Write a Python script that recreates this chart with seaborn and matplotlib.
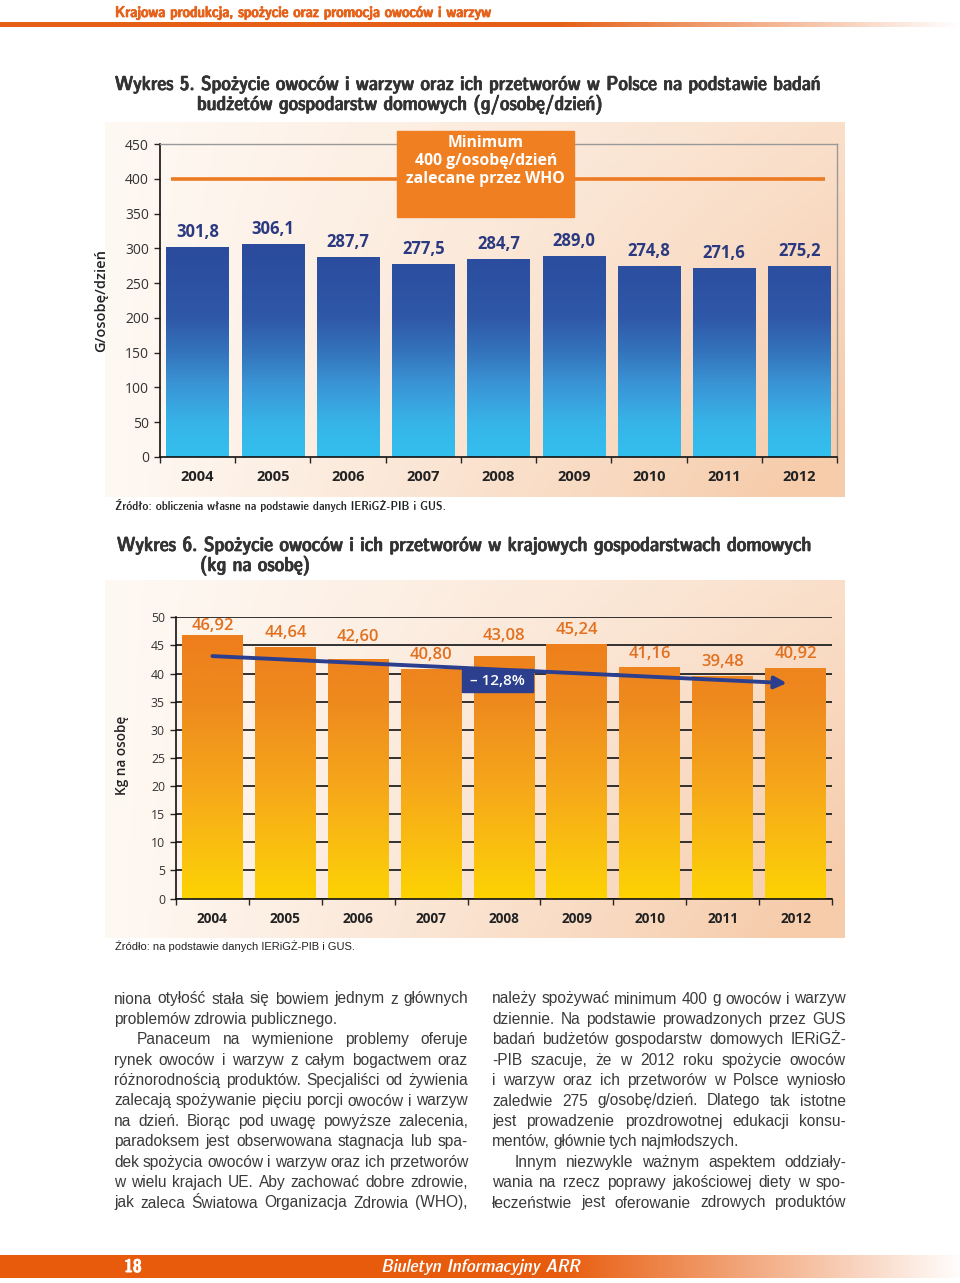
import matplotlib
matplotlib.use("Agg")
import numpy as np
import seaborn as sns
import matplotlib.pyplot as plt
import matplotlib.patheffects as pe
from matplotlib import font_manager
from matplotlib.colors import LinearSegmentedColormap
from matplotlib.patches import Rectangle

# data
years = ["2004", "2005", "2006", "2007", "2008", "2009", "2010", "2011", "2012"]
daily_g = [301.8, 306.1, 287.7, 277.5, 284.7, 289.0, 274.8, 271.6, 275.2]
who_min = 400
who_label = "Minimum\n400 g/osobę/dzień\nzalecane przez WHO"
yearly_kg = [46.92, 44.64, 42.60, 40.80, 43.08, 45.24, 41.16, 39.48, 40.92]
trend_kg = [43.1, 38.3]
trend_label = "– 12,8%"

header = "Krajowa produkcja, spożycie oraz promocja owoców i warzyw"
title5 = ["Wykres 5. Spożycie owoców i warzyw oraz ich przetworów w Polsce na podstawie badań",
          "budżetów gospodarstw domowych (g/osobę/dzień)"]
title6 = ["Wykres 6. Spożycie owoców i ich przetworów w krajowych gospodarstwach domowych",
          "(kg na osobę)"]
source5 = "Źródło: obliczenia własne na podstawie danych IERiGŻ-PIB i GUS."
source6 = "Źródło: na podstawie danych IERiGŻ-PIB i GUS."

# (text, indent, last line of paragraph)
left_col = [
    ("niona otyłość stała się bowiem jednym z głównych", 0, False),
    ("problemów zdrowia publicznego.", 0, True),
    ("Panaceum na wymienione problemy oferuje", 1, False),
    ("rynek owoców i warzyw z całym bogactwem oraz", 0, False),
    ("różnorodnością produktów. Specjaliści od żywienia", 0, False),
    ("zalecają spożywanie pięciu porcji owoców i warzyw", 0, False),
    ("na dzień. Biorąc pod uwagę powyższe zalecenia,", 0, False),
    ("paradoksem jest obserwowana stagnacja lub spa-", 0, False),
    ("dek spożycia owoców i warzyw oraz ich przetworów", 0, False),
    ("w wielu krajach UE. Aby zachować dobre zdrowie,", 0, False),
    ("jak zaleca Światowa Organizacja Zdrowia (WHO),", 0, False),
]
right_col = [
    ("należy spożywać minimum 400 g owoców i warzyw", 0, False),
    ("dziennie. Na podstawie prowadzonych przez GUS", 0, False),
    ("badań budżetów gospodarstw domowych IERiGŻ-", 0, False),
    ("-PIB szacuje, że w 2012 roku spożycie owoców", 0, False),
    ("i warzyw oraz ich przetworów w Polsce wyniosło", 0, False),
    ("zaledwie 275 g/osobę/dzień. Dlatego tak istotne", 0, False),
    ("jest prowadzenie prozdrowotnej edukacji konsu-", 0, False),
    ("mentów, głównie tych najmłodszych.", 0, True),
    ("Innym niezwykle ważnym aspektem oddziały-", 1, False),
    ("wania na rzecz poprawy jakościowej diety w spo-", 0, False),
    ("łeczeństwie jest oferowanie zdrowych produktów", 0, False),
]
page_no = "18"
footer = "Biuletyn Informacyjny ARR"

sns.set_style("white")
plt.rcParams["font.family"] = ["Open Sans", "DejaVu Sans"]
BODY = ["Liberation Sans", "DejaVu Sans"]

# pick a condensed face if one is installed, otherwise plain Liberation Sans
NARROW = dict(family=BODY)
condensed = False
for f in font_manager.fontManager.ttflist:
    st = str(f.stretch)
    if "Narrow" in f.name or "Condensed" in f.name or "condensed" in st:
        NARROW = dict(family=[f.name, "DejaVu Sans"], fontstretch=f.stretch)
        condensed = True
        if "Liberation" in f.name:
            break


def heavy(color, w=0.5):
    # light faux-bold for the condensed face (it has no bold cut here)
    return [pe.withStroke(linewidth=w, foreground=color)] if condensed else []


fig = plt.figure(figsize=(9.6, 12.83), dpi=100)
bg = fig.add_axes([0, 0, 1, 1])
bg.set_xlim(0, 960)
bg.set_ylim(1283, 0)
bg.axis("off")
R = fig.canvas.get_renderer()


def put(x, y, s, width=None, size=10, **kw):
    t = bg.text(x, y, s, fontsize=size, va="center", **kw)
    if width:
        w = t.get_window_extent(R).width
        t.set_fontsize(size * width / w)
    return t


def hfade(x0, x1, y0, y1, rgb, start, end, n=400):
    # horizontal band, solid until `start` then fading to white at `end`
    xs = np.linspace(x0, x1, n)
    a = np.clip((end - xs) / (end - start), 0, 1)
    arr = np.ones((2, n, 3))
    for i in range(3):
        arr[:, :, i] = 1 - a * (1 - rgb[i])
    bg.imshow(arr, extent=[x0, x1, y1, y0], aspect="auto", interpolation="bilinear", zorder=1)


def panel(x0, x1, y0, y1):
    xn = np.linspace(0, 1, 160)[None, :]
    yn = np.linspace(0, 1, 80)[:, None]
    t = np.clip(xn * (0.55 + 0.45 * yn) + 0.08, 0, 1) ** 1.1
    c0 = np.array([1.0, 0.988, 0.975])
    c1 = np.array([0.965, 0.80, 0.67])
    arr = c0[None, None, :] + t[:, :, None] * (c1 - c0)[None, None, :]
    bg.imshow(arr, extent=[x0, x1, y1, y0], aspect="auto", interpolation="bilinear", zorder=1)


def gradient_bars(ax, cmap, top):
    grad = np.linspace(0, 1, 256).reshape(-1, 1)
    xl, yl = ax.get_xlim(), ax.get_ylim()
    for p in list(ax.patches):
        x, w = p.get_x(), p.get_width()
        im = ax.imshow(grad, extent=[x, x + w, 0, top], origin="lower", aspect="auto",
                       cmap=cmap, vmin=0, vmax=1, zorder=2, interpolation="bilinear")
        im.set_clip_path(p)
        p.set_facecolor("none")
        p.set_edgecolor("none")
    ax.set_xlim(xl)
    ax.set_ylim(yl)


def justify(x0, x1, y, text, indent, last, size=11.2):
    words = text.split(" ")
    fs = size
    for _ in range(2):
        ts = [bg.text(0, y, w, fontsize=fs, va="center", family=BODY, color="#3a3a3a") for w in words]
        widths = [t.get_window_extent(R).width for t in ts]
        avail = x1 - x0 - indent * 23
        need = sum(widths) + 2.5 * (len(words) - 1)
        if need <= avail or last:
            break
        for t in ts:
            t.remove()
        fs = fs * avail / need
    if last:
        gap = 3.1 * fs / 11.2
    else:
        gap = (avail - sum(widths)) / (len(words) - 1)
    x = x0 + indent * 23
    for t, w in zip(ts, widths):
        t.set_x(x)
        x += w + gap


# header and footer
put(115, 13, header, width=376, size=11, weight="bold", color="#e5621b",
    path_effects=heavy("#e5621b", 0.6), **NARROW)
hfade(0, 960, 22, 27, (0.9, 0.38, 0.09), 560, 960)
hfade(0, 960, 1255, 1278, (0.91, 0.36, 0.05), 560, 965)
put(133, 1267, page_no, size=13, weight="bold", color="white", ha="center",
    path_effects=heavy("white", 0.7), **NARROW)
put(381, 1267, footer, width=198, size=12, style="italic", color="white", **NARROW)

# titles
TC = "#333333"
t = put(115, 85, title5[0], width=707, size=13, weight="bold", color=TC, path_effects=heavy(TC), **NARROW)
fs_title = t.get_fontsize()
put(197, 105, title5[1], size=fs_title, weight="bold", color=TC, path_effects=heavy(TC), **NARROW)
put(117, 546, title6[0], width=696, size=13, weight="bold", color=TC, path_effects=heavy(TC), **NARROW)
put(200, 566, title6[1], size=fs_title, weight="bold", color=TC, path_effects=heavy(TC), **NARROW)
put(115, 505, source5, width=332, size=9, color="#222222", **NARROW)
put(115, 946, source6, width=240, size=8, family=BODY, color="#222222")

# panels
panel(105, 845, 122, 497)
panel(105, 845, 580, 938)

# ---- Wykres 5 ----
ax1 = fig.add_axes([160 / 960, 1 - 457 / 1283, 677 / 960, 313 / 1283])
ax1.set_facecolor("none")
sns.barplot(x=years, y=daily_g, ax=ax1, width=0.83, color="#2a4a9b", saturation=1)
ax1.set_xlim(-0.5, 8.5)
ax1.set_ylim(0, 450)
blue = LinearSegmentedColormap.from_list("blue", [
    (0.0, "#33c0ef"), (50 / 310, "#37b3e8"), (100 / 310, "#3a97d7"),
    (150 / 310, "#3474bd"), (200 / 310, "#2f58a8"), (1.0, "#2b4a9c")])
gradient_bars(ax1, blue, 310)
ax1.plot([-0.36, 8.34], [who_min, who_min], color="#ec7a22", lw=2.6, zorder=3, solid_capstyle="butt")
ax1.add_patch(Rectangle((2.65, 345), 2.36, 124, color="#f07f22", zorder=5, clip_on=False))
ax1.text(3.83, 425.5, who_label, ha="center", va="center", color="white", fontsize=11.3,
         weight="bold", linespacing=1.15, zorder=6)
for i, v in enumerate(daily_g):
    ax1.annotate(f"{v:.1f}".replace(".", ","), (i, v), xytext=(0, 10.8), textcoords="offset points",
                 ha="center", va="center", fontsize=12, weight="bold", color="#2b3a80", zorder=6)
ax1.set_yticks(range(0, 451, 50))
ax1.set_xticks(range(9))
ax1.set_xticks(np.arange(-0.5, 9, 1), minor=True)
ax1.tick_params(axis="y", left=True, length=4, width=1, direction="out", labelsize=10,
                labelcolor="#333333", pad=4)
ax1.tick_params(axis="x", which="major", bottom=False, labelsize=10.5, pad=6)
ax1.tick_params(axis="x", which="minor", bottom=True, length=4, width=1, direction="out")
for lab in ax1.get_xticklabels():
    lab.set_fontweight("bold")
    lab.set_color("#222222")
for s in ["left", "bottom"]:
    ax1.spines[s].set_color("#111111")
    ax1.spines[s].set_linewidth(1.2)
for s in ["top", "right"]:
    ax1.spines[s].set_visible(True)
    ax1.spines[s].set_color("#999999")
    ax1.spines[s].set_linewidth(1.0)
ax1.set_xlabel("")
ax1.set_ylabel("")
put(101, 300, "G/osobę/dzień", size=10.5, weight="semibold", color="#222222", rotation=90, ha="center")

# ---- Wykres 6 ----
ax2 = fig.add_axes([176 / 960, 1 - 898.5 / 1283, 656 / 960, 281.2 / 1283])
ax2.set_facecolor("none")
sns.barplot(x=years, y=yearly_kg, ax=ax2, width=0.835, color="#ee7e1e", saturation=1)
ax2.set_xlim(-0.5, 8.5)
ax2.set_ylim(0, 50)
orange = LinearSegmentedColormap.from_list("orange", [
    (0.0, "#fdd300"), (5 / 47, "#fbc80c"), (20 / 47, "#f6a71a"),
    (35 / 47, "#ee8a1e"), (1.0, "#ee7e1c")])
gradient_bars(ax2, orange, 47)
ax2.set_axisbelow(True)
ax2.yaxis.grid(True, color="#222222", lw=1.3)
ax2.set_yticks(range(0, 51, 5))
ax2.set_xticks(range(9))
ax2.set_xticks(np.arange(-0.5, 9, 1), minor=True)
ax2.tick_params(axis="y", left=True, length=4, width=1, direction="out", labelsize=8.8,
                labelcolor="#333333", pad=4)
ax2.tick_params(axis="x", which="major", bottom=False, labelsize=9.8, pad=6)
ax2.tick_params(axis="x", which="minor", bottom=True, length=4, width=1, direction="out")
for lab in ax2.get_xticklabels():
    lab.set_fontweight("bold")
    lab.set_color("#222222")
for s in ["left", "bottom"]:
    ax2.spines[s].set_color("#111111")
    ax2.spines[s].set_linewidth(1.2)
for s in ["top", "right"]:
    ax2.spines[s].set_visible(False)
ax2.set_xlabel("")
ax2.set_ylabel("")
label_lift = [6.5, 10.5, 15.5, 10, 14.5, 10, 9.5, 10.5, 10]
for i, v in enumerate(yearly_kg):
    ax2.annotate(f"{v:.2f}".replace(".", ","), (i, v), xytext=(0, label_lift[i]), textcoords="offset points",
                 ha="center", va="center", fontsize=12, weight="semibold", color="#e2701f", zorder=6)
ax2.add_patch(Rectangle((3.42, 36.7), 0.98, 4.1, color="#2c3f8e", zorder=5))
ax2.text(3.91, 38.75, trend_label, ha="center", va="center", color="white", fontsize=11,
         weight="semibold", zorder=6)
ax2.annotate("", xy=(len(yearly_kg) - 1.12, trend_kg[1]), xytext=(0, trend_kg[0]),
             arrowprops=dict(arrowstyle="-|>,head_length=0.6,head_width=0.3", color="#2c3f8e",
                             lw=2.8, shrinkA=0, shrinkB=0, mutation_scale=12), zorder=7)
put(122, 755, "Kg na osobę", size=9.8, weight="semibold", color="#222222", rotation=90, ha="center")

# body text
for k, (s, ind, last) in enumerate(left_col):
    justify(114, 468, 999 + k * 20.4, s, ind, last)
for k, (s, ind, last) in enumerate(right_col):
    justify(492, 846, 999 + k * 20.4, s, ind, last)

fig.savefig("out.png", dpi=100)
